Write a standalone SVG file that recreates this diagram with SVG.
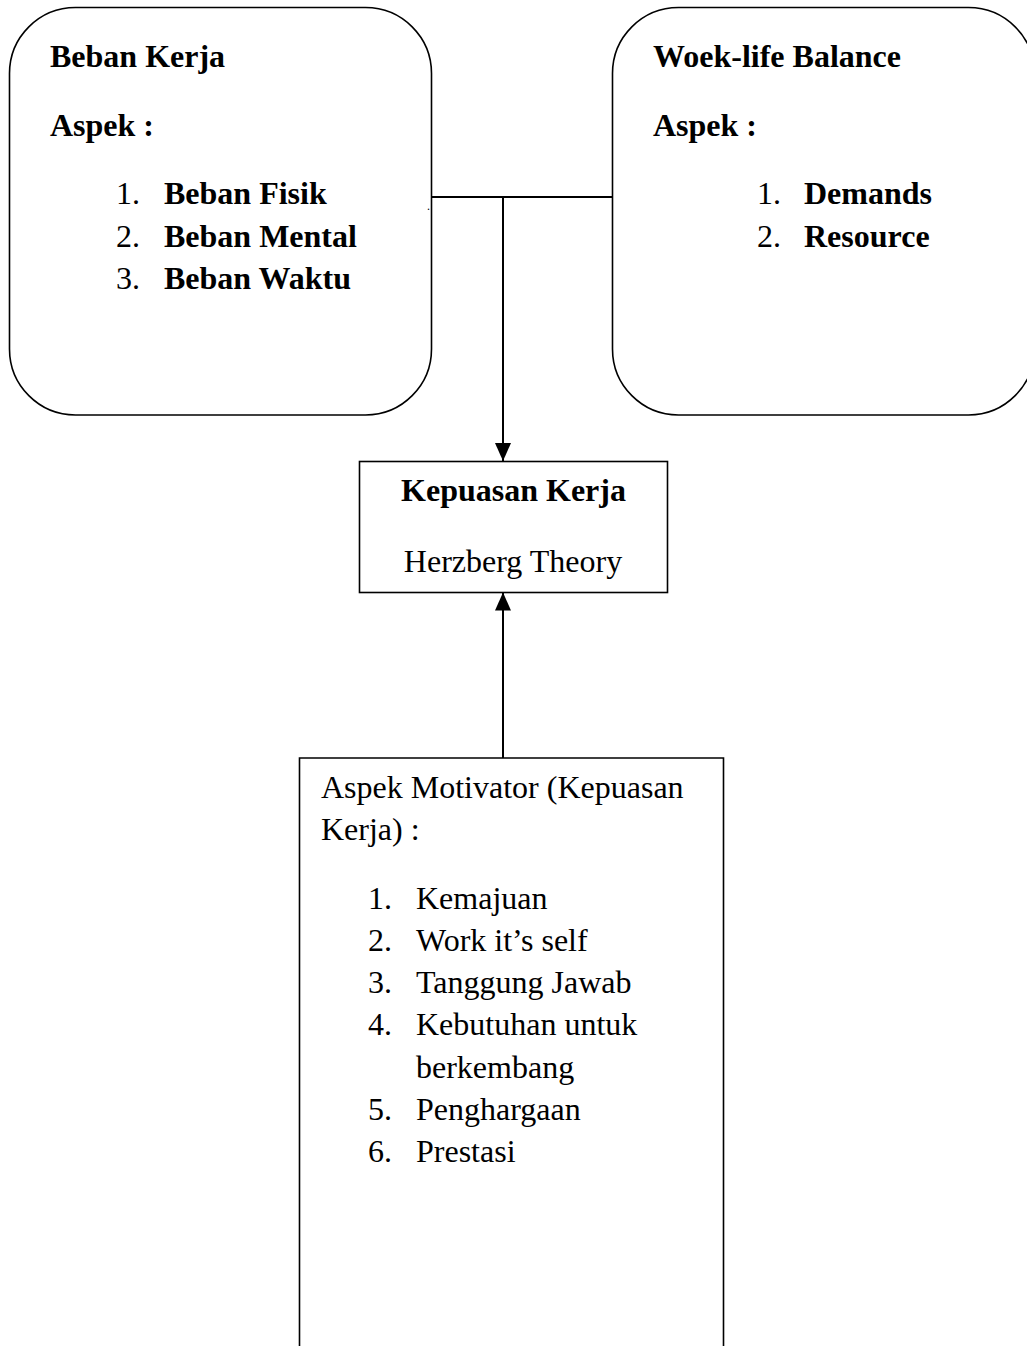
<svg xmlns="http://www.w3.org/2000/svg" width="1027" height="1346" viewBox="0 0 1027 1346">
<defs>
<style>
.box{fill:#fff;stroke:#000;stroke-width:1.6}
.t{font-family:"Liberation Serif","Times New Roman",serif;font-size:32px;fill:#000}
.b{font-weight:bold}
.conn{fill:none;stroke:#000;stroke-width:2}
</style>
<marker id="arr" markerUnits="userSpaceOnUse" markerWidth="18" markerHeight="16" viewBox="0 0 18 16" refX="18" refY="8" orient="auto">
<path d="M0,0 L18,8 L0,16 Z" fill="#000"/>
</marker>
</defs>
<rect width="1027" height="1346" fill="#fff"/>
<g id="connectors">
<line class="conn" x1="431" y1="197" x2="613" y2="197"/>
<line class="conn" x1="503" y1="197" x2="503" y2="461" marker-end="url(#arr)"/>
<line class="conn" x1="503" y1="758" x2="503" y2="592.5" marker-end="url(#arr)"/>
</g>
<g id="beban-kerja">
<rect class="box" x="9.5" y="7.5" width="422" height="407.5" rx="66" ry="66"/>
<text class="t b" x="50" y="67">Beban Kerja</text>
<text class="t b" x="50" y="136">Aspek :</text>
<text class="t" x="116" y="204">1.</text>
<text class="t b" x="164" y="204">Beban Fisik</text>
<text class="t" x="116" y="247">2.</text>
<text class="t b" x="164" y="247">Beban Mental</text>
<text class="t" x="116" y="289">3.</text>
<text class="t b" x="164" y="289">Beban Waktu</text>
</g>
<text x="427" y="210" style="font-family:'Liberation Serif',serif;font-size:12px">.</text>
<g id="work-life-balance">
<rect class="box" x="612.5" y="7.5" width="422" height="407.5" rx="66" ry="66"/>
<text class="t b" x="653" y="67">Woek-life Balance</text>
<text class="t b" x="653" y="136">Aspek :</text>
<text class="t" x="757" y="204">1.</text>
<text class="t b" x="804" y="204">Demands</text>
<text class="t" x="757" y="247">2.</text>
<text class="t b" x="804" y="247">Resource</text>
</g>
<g id="kepuasan-kerja">
<rect class="box" x="359.5" y="461.5" width="308" height="131"/>
<text class="t b" x="513.5" y="501" text-anchor="middle">Kepuasan Kerja</text>
<text class="t" x="513" y="572" text-anchor="middle">Herzberg Theory</text>
</g>
<g id="aspek-motivator">
<path class="box" d="M299.5,1350 V758 H723.5 V1350"/>
<text class="t" x="321" y="798">Aspek Motivator (Kepuasan</text>
<text class="t" x="321" y="840">Kerja) :</text>
<text class="t" x="368" y="909">1.</text>
<text class="t" x="416" y="909">Kemajuan</text>
<text class="t" x="368" y="951">2.</text>
<text class="t" x="416" y="951">Work it’s self</text>
<text class="t" x="368" y="993">3.</text>
<text class="t" x="416" y="993">Tanggung Jawab</text>
<text class="t" x="368" y="1035">4.</text>
<text class="t" x="416" y="1035">Kebutuhan untuk</text>
<text class="t" x="416" y="1078">berkembang</text>
<text class="t" x="368" y="1120">5.</text>
<text class="t" x="416" y="1120">Penghargaan</text>
<text class="t" x="368" y="1162">6.</text>
<text class="t" x="416" y="1162">Prestasi</text>
</g>
</svg>
